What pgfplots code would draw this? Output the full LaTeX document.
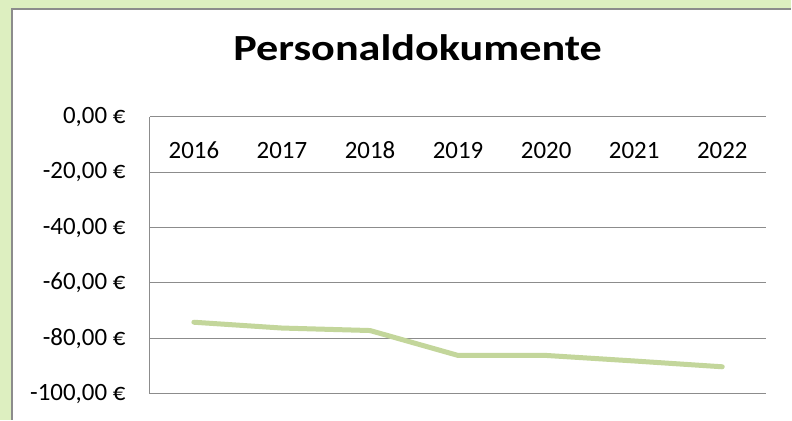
\documentclass[border=0pt]{standalone}
\usepackage{pgfplots}
\pgfplotsset{compat=1.18}
\usepackage{fontspec}
\setmainfont{Carlito}
\definecolor{bggreen}{HTML}{DDEFC0}
\definecolor{linegreen}{HTML}{C3D69B}
\definecolor{gridgray}{HTML}{8C8C8C}
\begin{document}
\begin{tikzpicture}[x=1bp,y=1bp]
\fill[bggreen] (0,0) rectangle (792,420);
\fill[white] (12,0) rectangle (792,411);
\draw[gridgray, line width=1.5bp] (12,0) -- (12,411) -- (792,411);
\node[font=\fontsize{37}{40}\selectfont\bfseries, anchor=base, xscale=1.2] at (418,359.5) {Personaldokumente};
\begin{axis}[
  at={(150bp,26bp)}, anchor=south west,
  scale only axis, width=617bp, height=277bp,
  xmin=-0.5, xmax=6.5, ymin=-100, ymax=0,
  axis x line=top, axis y line=left,
  axis line style={-, draw=gridgray, line width=1bp},
  xtick={0,...,6},
  xticklabels={2016,2017,2018,2019,2020,2021,2022},
  ytick={-100,-80,-60,-40,-20,0},
  yticklabels={{-100,00 €},{-80,00 €},{-60,00 €},{-40,00 €},{-20,00 €},{0,00 €}},
  major tick length=0pt,
  ymajorgrids, grid style={gridgray, line width=1bp},
  tick label style={font=\fontsize{25}{28}\selectfont},
  xticklabel style={anchor=base, yshift=-42bp},
  yticklabel style={anchor=east, xshift=-21bp},
  clip=false,
]
\addplot[linegreen, line width=5bp, line cap=round, line join=round] coordinates {
 (0,-74.2) (1,-76.3) (2,-77.2) (3,-86.2) (4,-86.2) (5,-88.2) (6,-90.3)};
\end{axis}
\end{tikzpicture}
\end{document}
